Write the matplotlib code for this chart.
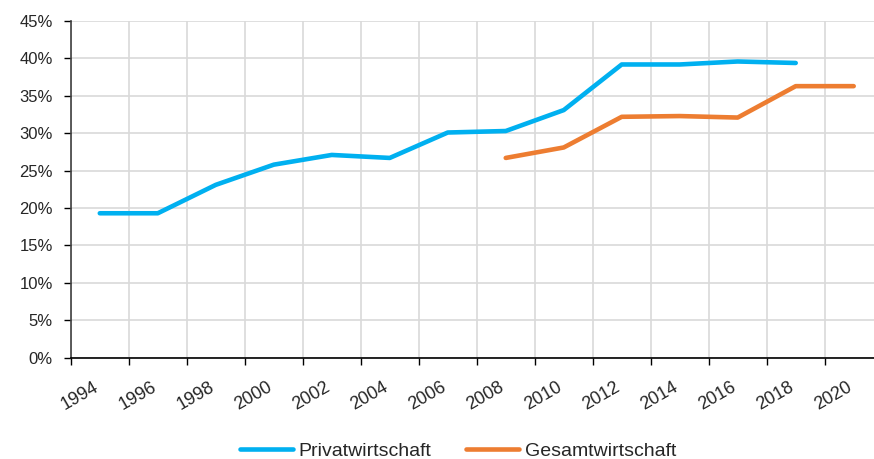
import matplotlib.pyplot as plt
from matplotlib.ticker import PercentFormatter
from matplotlib.transforms import ScaledTranslation

plt.rcParams['font.family'] = ['Liberation Sans', 'DejaVu Sans']

years_privat = [1995, 1997, 1999, 2001, 2003, 2005, 2007, 2009, 2011, 2013, 2015, 2017, 2019]
privat = [19.3, 19.3, 23.1, 25.8, 27.1, 26.7, 30.1, 30.3, 33.1, 39.2, 39.2, 39.6, 39.4]

years_gesamt = [2009, 2011, 2013, 2015, 2017, 2019, 2021]
gesamt = [26.7, 28.1, 32.2, 32.3, 32.1, 36.3, 36.3]

x_ticks = list(range(1994, 2021, 2))
y_ticks = list(range(0, 46, 5))

fig = plt.figure(figsize=(8.74, 4.59), dpi=100)
ax = fig.add_axes([0.081, 0.221, 0.919, 0.733])

ax.plot(years_privat, privat, color='#00B0F0', lw=3.3, solid_capstyle='round',
        label='Privatwirtschaft', zorder=3)
ax.plot(years_gesamt, gesamt, color='#ED7D31', lw=3.3, solid_capstyle='round',
        label='Gesamtwirtschaft', zorder=3)

ax.set_xlim(1994, 2021.7)
ax.set_ylim(0, 45)
ax.set_xticks(x_ticks)
ax.set_yticks(y_ticks)
ax.yaxis.set_major_formatter(PercentFormatter(decimals=0))
ax.grid(True, color='#d9d9d9', lw=1.2)
ax.set_axisbelow(True)

for s in ['top', 'right']:
    ax.spines[s].set_visible(False)
ax.spines['left'].set_color('#404040')
ax.spines['bottom'].set_color('#000000')
ax.spines['left'].set_linewidth(1.2)
ax.spines['bottom'].set_linewidth(1.2)

ax.tick_params(axis='both', length=5, width=1, labelcolor='#262626')
ax.tick_params(axis='y', labelsize=12, pad=8)
ax.tick_params(axis='x', labelsize=13, pad=10)
shift = ScaledTranslation(0.09, 0, fig.dpi_scale_trans)
for lbl in ax.get_xticklabels():
    lbl.set_rotation(30)
    lbl.set_ha('center')
    lbl.set_va('top')
    lbl.set_transform(lbl.get_transform() + shift)

fig.legend(loc='center', bbox_to_anchor=(0.524, 0.018), ncol=2, frameon=False,
           fontsize=14, handlelength=2.7, handletextpad=0.3, columnspacing=1.8,
           labelcolor='#262626')

fig.savefig('out.png', dpi=100)
